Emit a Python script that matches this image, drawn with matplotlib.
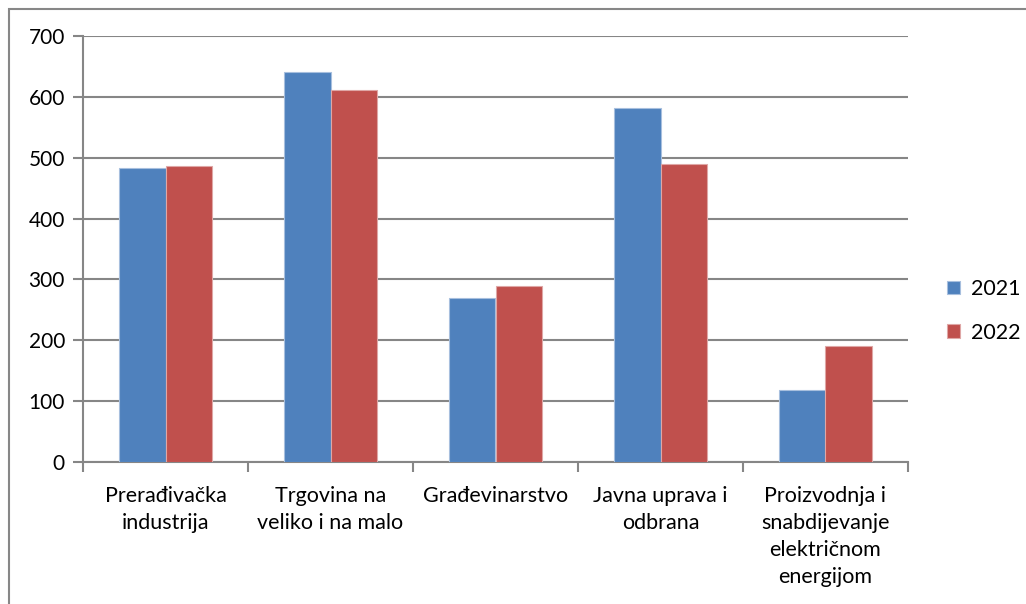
import numpy as np
import matplotlib.pyplot as plt
from matplotlib.patches import Rectangle

# Data
categories = ["Prerađivačka\nindustrija", "Trgovina na\nveliko i na malo", "Građevinarstvo",
              "Javna uprava i\nodbrana", "Proizvodnja i\nsnabdijevanje\nelektričnom\nenergijom"]
values_2021 = [483, 641, 270, 582, 118]
values_2022 = [486, 611, 289, 490, 190]
series_names = ["2021", "2022"]

plt.rcParams['font.family'] = ['Lato', 'DejaVu Sans']

fig = plt.figure(figsize=(10.26, 6.04), dpi=100)
ax = fig.add_axes([83 / 1026, 1 - 462 / 604, 825 / 1026, 426 / 604])

x = np.arange(len(categories))
w = 0.28
ax.bar(x - w / 2, values_2021, w, color='#4F81BD', edgecolor='#A7BFDE', linewidth=0.8,
       label=series_names[0], zorder=3)
ax.bar(x + w / 2, values_2022, w, color='#C0504D', edgecolor='#DFA7A6', linewidth=0.8,
       label=series_names[1], zorder=3)

ax.set_xlim(-0.5, len(categories) - 0.5)
ax.set_ylim(0, 700)
ax.set_yticks(range(0, 701, 100))
ax.yaxis.grid(True, color='#868686', linewidth=1.5, zorder=0)

# category boundary ticks
ax.set_xticks(np.arange(-0.5, len(categories), 1.0))
ax.set_xticklabels([])
ax.set_xticks(x, minor=True)
ax.set_xticklabels(categories, minor=True, fontsize=15.5, linespacing=1.45, va='top')
ax.tick_params(axis='x', which='minor', length=0, pad=17)
ax.tick_params(axis='x', which='major', length=7, width=1.5, color='#868686')
ax.tick_params(axis='y', length=7, width=1.5, color='#868686', labelsize=15, pad=6)

for s in ['top', 'right']:
    ax.spines[s].set_visible(False)
for s in ['left', 'bottom']:
    ax.spines[s].set_color('#868686')
    ax.spines[s].set_linewidth(1.5)

leg = ax.legend(loc='center left', bbox_to_anchor=(1.024, 0.355), frameon=False, fontsize=15.5,
                handlelength=0.6, handleheight=0.6, handletextpad=0.5, labelspacing=1.1)

# outer border of chart area
fig.patches.append(Rectangle((9 / 1026, -0.1), 1.2, 1.1 - 9 / 604, transform=fig.transFigure,
                             fill=False, edgecolor='#878787', linewidth=1.5))

fig.savefig('out.png', dpi=100)
